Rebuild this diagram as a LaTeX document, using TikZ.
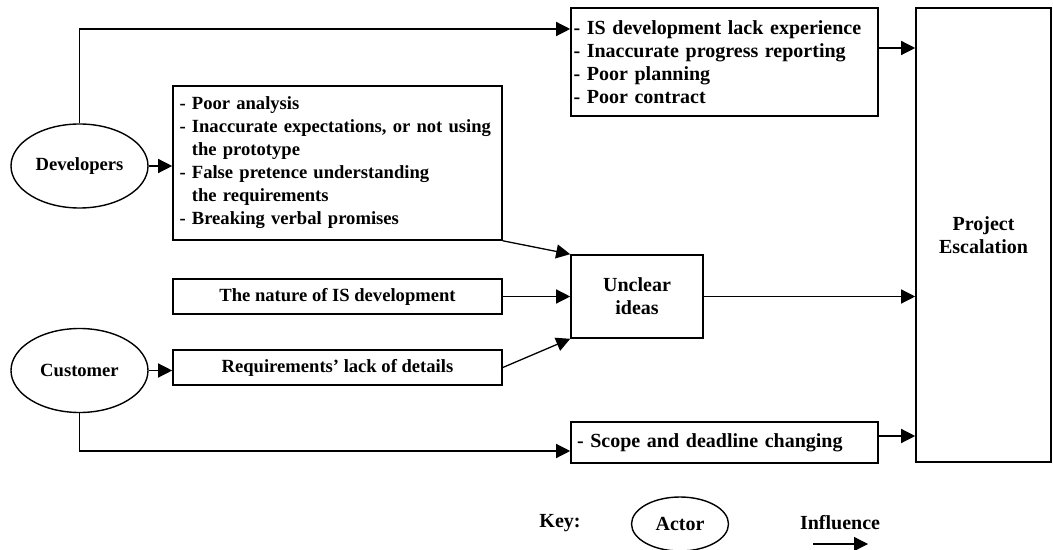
\documentclass[tikz,border=0pt]{standalone}
\usepackage{fontspec}
\setmainfont{Liberation Serif}
\usetikzlibrary{shapes,arrows.meta,calc}

\begin{document}
\begin{tikzpicture}[x=0.5pt,y=-0.5pt,line width=0.65pt,
  >={Triangle[length=7pt,width=7pt]},
  actor/.style={draw,ellipse,line width=0.7pt,inner sep=0pt,minimum width=68.5pt,minimum height=42pt},
  factor/.style={draw,rectangle,line width=0.8pt,inner sep=0pt},
  lefttext/.style={font=\fontsize{9.3}{11.5}\selectfont\bfseries},
  every node/.style={font=\fontsize{10}{11.5}\selectfont\bfseries}]
  \useasboundingbox (0,0) rectangle (1053,550);
  \node[actor,lefttext] (dev) at (79.5,166) {Developers};
  \node[actor,lefttext] (cust) at (79.5,370.5) {Customer};
  \node[factor,minimum width=153.5pt,minimum height=54pt,text width=151pt,inner xsep=1.2pt,align=left] (topbox) at (724.5,62)
    {- IS development lack experience\\- Inaccurate progress reporting\\- Poor planning\\- Poor contract};
  \node[factor,lefttext,minimum width=164.5pt,minimum height=77pt,text width=158pt,inner xsep=3.25pt,align=left] (midbox) at (337.5,163)
    {- Poor analysis\\\mbox{- Inaccurate expectations, or not using}\\\hphantom{- }the prototype\\- False pretence understanding\\\hphantom{- }the requirements\\- Breaking verbal promises};
  \node[factor,lefttext,minimum width=164.5pt,minimum height=17.5pt] (nature) at (337.5,296.5) {The nature of IS development};
  \node[factor,lefttext,minimum width=164.5pt,minimum height=17.5pt] (req) at (337.5,367.5) {Requirements' lack of details};
  \node[factor,minimum width=66pt,minimum height=41.5pt,align=center] (unclear) at (637,296.5) {Unclear\\ideas};
  \node[factor,minimum width=153.5pt,minimum height=20.5pt,text width=147.5pt,inner xsep=3pt,align=left] (scope) at (724.5,442.5)
    {- Scope and deadline changing};
  \node[factor,minimum width=67.5pt,minimum height=227pt,align=center] (proj) at (983.5,235) {Project\\Escalation};
  \path[draw,->] (dev.north) |- ([yshift=16.5pt]topbox.west);
  \path[draw,->] (dev.east) -- (dev.east -| midbox.west);
  \path[draw,->] (midbox.south east) -- (unclear.north west);
  \path[draw,->] (nature.east) -- (nature.east -| unclear.west);
  \path[draw,->] (req.east) -- (unclear.south west);
  \path[draw,->] (cust.east) -- (cust.east -| req.west);
  \path[draw,->] (cust.south) |- ([yshift=-4.25pt]scope.west);
  \path[draw,->] ([yshift=7pt]topbox.east) -- ([yshift=7pt]topbox.east -| proj.west);
  \path[draw,->] (unclear.east) -- (unclear.east -| proj.west);
  \path[draw,->] ([yshift=3.25pt]scope.east) -- ([yshift=3.25pt]scope.east -| proj.west);
  % key
  \node (key) at (560,523) {Key:};
  \node[actor,minimum width=48.5pt,minimum height=27pt] (keyactor) at (680,524) {Actor};
  \node (keyinf) at (840,523) {Influence};
  \coordinate (keya) at (813,544);
  \coordinate (keyb) at (868,544);
  \path[draw,->] (keya) -- (keyb);
\end{tikzpicture}
\end{document}
